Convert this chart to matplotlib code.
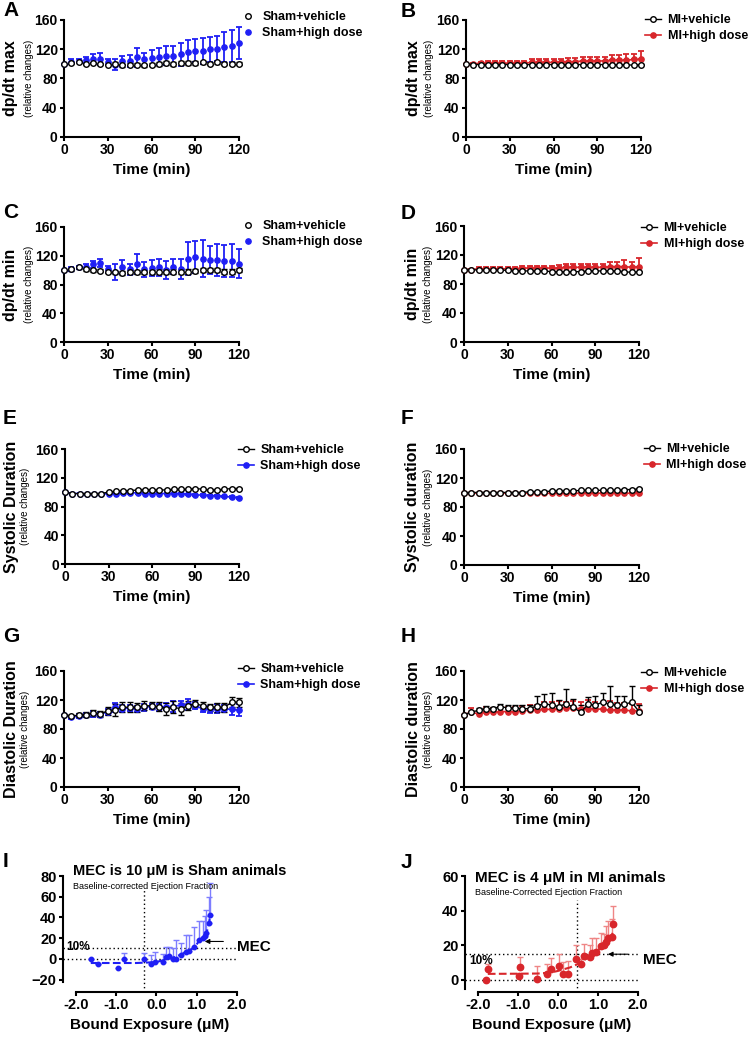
import numpy as np
import matplotlib
matplotlib.use("Agg")
import matplotlib.pyplot as plt

plt.rcParams['font.family'] = ['Liberation Sans', 'DejaVu Sans']
plt.rcParams['font.weight'] = 'bold'
plt.rcParams['axes.linewidth'] = 1.5

BLUE = '#1f1ff5'
RED = '#d8262b'
LBLUE = '#7d7dff'
LRED = '#ef8585'

W, H = 752, 1037

time = list(range(0, 125, 5))

# A - dp/dt max, sham
a_veh = [100, 101, 102, 100, 101, 100, 99, 100, 98, 99, 99, 98, 99, 100, 101, 100, 101, 101, 101, 102, 100, 102, 100, 100, 100]
a_veh_err = [0, 1, 1, 1, 1, 1, 1, 2, 2, 2, 2, 2, 2, 3, 3, 3, 3, 3, 3, 2, 2, 2, 2, 2, 2]
a_hd = [100, 103, 104, 105, 107, 107, 102, 99, 104, 104, 109, 106, 108, 110, 111, 111, 113, 116, 118, 118, 120, 121, 123, 125, 128]
a_hd_err = [0, 3, 2, 4, 6, 8, 4, 7, 7, 8, 13, 9, 11, 12, 13, 13, 16, 16, 16, 18, 17, 17, 21, 22, 22]

# B - dp/dt max, MI
b_veh = [100, 99, 99, 99, 99, 99, 99, 98, 99, 99, 99, 99, 99, 99, 99, 99, 99, 99, 99, 99, 99, 99, 99, 98, 99]
b_veh_err = [0, 1, 1, 1, 1, 1, 1, 1, 1, 1, 1, 1, 1, 1, 1, 1, 1, 1, 1, 1, 1, 1, 1, 1, 1]
b_hd = [100, 100, 101, 101, 101, 101, 101, 101, 101, 102, 102, 102, 102, 103, 103, 103, 104, 104, 104, 104, 105, 105, 105, 106, 106]
b_hd_err = [0, 1, 2, 3, 3, 3, 3, 3, 3, 4, 4, 4, 4, 4, 5, 5, 5, 5, 6, 6, 7, 7, 8, 8, 11]

# C - dp/dt min, sham
c_veh = [100, 101, 104, 101, 100, 99, 98, 97, 96, 97, 97, 97, 97, 98, 98, 98, 98, 98, 99, 100, 100, 100, 98, 98, 100]
c_veh_err = [0, 2, 2, 2, 2, 2, 2, 2, 3, 3, 3, 3, 3, 3, 3, 3, 3, 3, 3, 3, 3, 3, 3, 3, 3]
c_hd = [100, 102, 104, 105, 108, 110, 101, 97, 104, 101, 109, 101, 103, 104, 100, 105, 102, 116, 118, 116, 114, 114, 113, 113, 109]
c_hd_err = [0, 3, 2, 4, 5, 6, 5, 11, 10, 8, 14, 10, 11, 12, 13, 11, 14, 23, 22, 26, 20, 22, 22, 23, 20]

# D - dp/dt min, MI
d_veh = [100, 100, 99, 99, 99, 99, 99, 98, 98, 98, 98, 98, 97, 97, 97, 97, 97, 98, 98, 98, 98, 98, 97, 96, 97]
d_veh_err = [0, 1, 1, 1, 1, 1, 1, 1, 1, 1, 1, 1, 1, 1, 1, 1, 1, 1, 1, 1, 1, 1, 1, 1, 1]
d_hd = [100, 100, 101, 101, 101, 101, 101, 101, 102, 102, 102, 102, 102, 102, 103, 103, 103, 103, 103, 103, 104, 104, 104, 103, 104]
d_hd_err = [0, 1, 2, 2, 2, 2, 2, 3, 3, 3, 3, 3, 3, 4, 4, 4, 4, 5, 5, 5, 6, 6, 9, 8, 12]

# E - systolic duration, sham
e_veh = [100, 98, 98, 98, 98, 98, 100, 101, 102, 102, 103, 103, 103, 103, 103, 104, 104, 104, 105, 104, 103, 103, 104, 105, 105]
e_veh_err = [0, 1, 1, 1, 1, 1, 1, 1, 1, 1, 1, 1, 1, 1, 1, 1, 1, 1, 1, 1, 1, 1, 1, 1, 1]
e_hd = [100, 98, 98, 97, 97, 97, 98, 98, 99, 99, 99, 98, 98, 98, 98, 98, 98, 97, 96, 96, 95, 95, 94, 93, 92]
e_hd_err = [0, 1, 1, 1, 1, 1, 1, 1, 1, 1, 1, 1, 1, 1, 1, 1, 1, 1, 1, 1, 1, 1, 1, 1, 1]

# F - systolic duration, MI
f_veh = [100, 100, 100, 100, 100, 100, 100, 100, 100, 101, 101, 101, 102, 102, 102, 102, 103, 103, 103, 103, 103, 103, 104, 104, 105]
f_veh_err = [0, 1, 1, 1, 1, 1, 1, 1, 1, 1, 1, 1, 1, 1, 1, 1, 1, 1, 1, 1, 1, 1, 1, 1, 1]
f_hd = [100, 99, 99, 99, 99, 99, 99, 99, 99, 99, 99, 99, 99, 99, 99, 99, 99, 99, 99, 99, 99, 99, 99, 99, 99]
f_hd_err = [0, 1, 1, 1, 1, 1, 1, 1, 1, 1, 1, 1, 1, 1, 1, 1, 1, 1, 1, 2, 2, 2, 2, 2, 2]

# G - diastolic duration, sham
g_veh = [100, 98, 99, 100, 102, 101, 105, 106, 110, 110, 110, 112, 112, 111, 108, 110, 108, 112, 115, 112, 110, 110, 110, 117, 117]
g_veh_err = [0, 2, 3, 4, 4, 4, 6, 8, 7, 7, 6, 6, 5, 6, 8, 8, 8, 6, 5, 5, 5, 6, 6, 7, 6]
g_hd = [100, 96, 98, 99, 101, 100, 104, 110, 108, 109, 108, 110, 111, 110, 111, 111, 113, 114, 112, 108, 107, 108, 108, 107, 106]
g_hd_err = [0, 2, 3, 3, 4, 4, 4, 6, 5, 4, 4, 5, 4, 5, 5, 7, 6, 8, 5, 4, 5, 6, 5, 7, 8]

# H - diastolic duration, MI
h_veh = [100, 103, 106, 108, 108, 111, 109, 109, 108, 108, 112, 115, 113, 111, 115, 110, 103, 114, 113, 117, 114, 113, 114, 117, 104]
h_veh_err = [0, 2, 3, 4, 3, 4, 4, 4, 5, 5, 14, 13, 16, 9, 20, 12, 10, 10, 13, 13, 25, 12, 11, 22, 9]
h_hd = [100, 103, 101, 103, 103, 104, 104, 104, 105, 106, 106, 107, 107, 108, 109, 109, 108, 108, 108, 107, 106, 106, 106, 105, 105]
h_hd_err = [0, 6, 4, 8, 6, 6, 6, 6, 7, 7, 7, 10, 10, 11, 8, 10, 9, 12, 9, 10, 12, 10, 10, 9, 10]

# I - sham exposure response
i_x = [-1.63, -1.44, -0.95, -0.80, -0.32, -0.14, -0.03, 0.17, 0.23, 0.32, 0.42, 0.48, 0.61, 0.74, 0.81, 0.94, 1.05, 1.15, 1.20, 1.24, 1.31, 1.33]
i_y = [0, -5, -9, 0, 0, -5, -3, -3, 2, 3, 0, 0, 4, 7, 8, 11, 18, 20, 22, 25, 35, 42]
i_err = [0, 0, 0, 5.5, 5.5, 9, 10, 8, 9, 8, 10, 18, 11.5, 16, 15, 20, 19, 17, 19, 22, 25, 31]
i_fit_x = [-1.63, -1.0, -0.5, -0.2, 0.0, 0.2, 0.4, 0.6, 0.8, 0.95, 1.05, 1.15, 1.25, 1.31, 1.33]
i_fit_y = [-4, -4, -4, -3.5, -3, -1, 1, 4, 8, 11, 17, 21, 26, 35, 42]

# J - MI exposure response
j_x = [-1.79, -1.74, -0.96, -0.95, -0.51, -0.28, -0.18, 0.02, 0.13, 0.26, 0.46, 0.57, 0.66, 0.79, 0.86, 0.96, 1.07, 1.15, 1.21, 1.25, 1.34, 1.37]
j_y = [0, 6.2, 2, 7, 0.6, 3, 6.4, 8, 3.5, 3.5, 11.8, 9, 13.4, 13, 15.5, 16, 19.4, 20.3, 22, 24, 24.4, 32]
j_err = [0, 3, 0, 6, 7, 6, 6, 7, 6.5, 7.5, 8, 3, 7, 7, 8.5, 8, 7.3, 6, 9, 10, 10.5, 10.6]
j_fit_x = [-1.75, -1.0, -0.5, -0.2, 0.0, 0.3, 0.5, 0.7, 0.9, 1.1, 1.3, 1.37]
j_fit_y = [3.3, 3.4, 3.5, 4, 5, 7, 9, 12, 15, 19, 24, 27]

fig = plt.figure(figsize=(W / 100, H / 100), dpi=100)


def px_axes(left, top, right, bottom):
    return fig.add_axes([left / W, 1 - bottom / H, (right - left) / W, (bottom - top) / H])


def style_axes(ax):
    for s in ['top', 'right']:
        ax.spines[s].set_visible(False)
    ax.tick_params(direction='out', length=3, width=1.5, labelsize=10, pad=1.5)
    for lab in ax.get_xticklabels() + ax.get_yticklabels():
        lab.set_fontweight('bold')


def time_panel(box, veh, veh_err, hd, hd_err, color, names, ylab, lab_x, sub_x,
               connect, up_only, leg_xy, letter, letter_xy):
    ax = px_axes(*box)
    ls = '-' if connect else 'none'
    zeros = [0] * len(veh)
    ve = [zeros, veh_err] if up_only else veh_err
    he = [zeros, hd_err] if up_only else hd_err
    ax.errorbar(time, hd, yerr=he, fmt='none', ecolor=color, elinewidth=1.3,
                capsize=2, capthick=1.3, clip_on=False, zorder=2)
    ax.errorbar(time, veh, yerr=ve, fmt='none', ecolor='black', elinewidth=1.0,
                capsize=2, capthick=1.0, clip_on=False, zorder=3)
    h1, = ax.plot(time, veh, linestyle=ls, color='black', lw=1, marker='o', ms=4,
                  mfc='white', mec='black', mew=1, clip_on=False, zorder=4)
    h2, = ax.plot(time, hd, linestyle=ls, color=color, lw=1.2, marker='o', ms=3.8,
                  mfc=color, mec=color, clip_on=False, zorder=3.5)
    ax.set_xlim(0, 120)
    ax.set_ylim(0, 160)
    ax.set_xticks([0, 30, 60, 90, 120])
    ax.set_yticks([0, 40, 80, 120, 160])
    style_axes(ax)
    ax.set_xlabel('Time (min)', fontsize=11, fontweight='bold', labelpad=4)
    yc = 1 - (box[1] + box[3]) / 2 / H
    fig.text(lab_x / W, yc, ylab, rotation=90, ha='center', va='center',
             fontsize=11.5, fontweight='bold')
    fig.text(sub_x / W, yc, '(relative changes)', rotation=90, ha='center', va='center',
             fontsize=7, fontweight='normal')
    ax.legend([h1, h2], names, loc='upper left',
              bbox_to_anchor=(leg_xy[0] / W, 1 - leg_xy[1] / H), bbox_transform=fig.transFigure,
              frameon=False, handlelength=1.3, handletextpad=0.5, borderpad=0,
              borderaxespad=0, labelspacing=0.35, prop={'size': 9, 'weight': 'bold'})
    fig.text(letter_xy[0] / W, 1 - letter_xy[1] / H, letter, ha='left', va='top',
             fontsize=15, fontweight='bold')
    return ax


sham = ['Sham+vehicle', 'Sham+high dose']
mi = ['MI+vehicle', 'MI+high dose']

time_panel((64, 20, 239, 137), a_veh, a_veh_err, a_hd, a_hd_err, BLUE, sham, 'dp/dt max', 11, 29,
           False, False, (240, 11), 'A', (3, 1))
time_panel((466, 20, 641, 137), b_veh, b_veh_err, b_hd, b_hd_err, RED, mi, 'dp/dt max', 414, 429,
           True, True, (645, 14), 'B', (401, 2))
time_panel((64, 227, 239, 342), c_veh, c_veh_err, c_hd, c_hd_err, BLUE, sham, 'dp/dt min', 11, 29,
           False, False, (240, 220), 'C', (3, 203))
time_panel((464, 226, 639, 342), d_veh, d_veh_err, d_hd, d_hd_err, RED, mi, 'dp/dt min', 413, 428,
           True, True, (641, 222), 'D', (401, 204))
time_panel((65, 449, 239, 564), e_veh, e_veh_err, e_hd, e_hd_err, BLUE, sham, 'Systolic Duration', 12, 25,
           True, False, (238, 444), 'E', (3, 409))
time_panel((464, 449, 639, 565), f_veh, f_veh_err, f_hd, f_hd_err, RED, mi, 'Systolic duration', 413, 428,
           True, True, (644, 443), 'F', (401, 409))
time_panel((64, 671, 239, 787), g_veh, g_veh_err, g_hd, g_hd_err, BLUE, sham, 'Diastolic Duration', 12, 25,
           True, False, (238, 663), 'G', (3, 627))
time_panel((464, 671, 639, 787), h_veh, h_veh_err, h_hd, h_hd_err, RED, mi, 'Diastolic duration', 413, 428,
           True, True, (641, 667), 'H', (401, 627))


def exposure_panel(box, xs, ys, errs, fx, fy, color, ecolor, ms, ylim, spine_low, yticks,
                   vline_x, vline_top, mec_y, title, subtitle, title_y, sub_y, title_size, pct_xy,
                   arrow, mec_txt, letter, letter_xy):
    ax = px_axes(*box)
    x0 = -2.32
    ax.set_xlim(x0, 2.0)
    ax.set_ylim(*ylim)
    ax.hlines([0, mec_y], x0, 2.0, colors='black', linestyles=(0, (1, 2)), lw=1)
    ax.vlines(vline_x, ylim[0], vline_top, colors='black', linestyles=(0, (1, 2)), lw=1)
    ax.errorbar(xs, ys, yerr=[[0] * len(errs), errs], fmt='none', ecolor=ecolor,
                elinewidth=1, capsize=2, capthick=1, zorder=2)
    ax.plot(fx, fy, linestyle='--', color=color, lw=1.5, zorder=3)
    ax.plot(xs, ys, linestyle='none', marker='o', ms=ms, color=color, zorder=4)
    ax.spines['left'].set_bounds(spine_low, ylim[1])
    ax.spines['bottom'].set_bounds(-2.0, 2.0)
    ax.set_xticks([-2, -1, 0, 1, 2])
    ax.set_xticklabels(['-2.0', '-1.0', '0.0', '1.0', '2.0'])
    ax.set_yticks(yticks)
    style_axes(ax)
    ax.tick_params(labelsize=10.5)
    ax.set_xlabel('Bound Exposure (μM)', fontsize=11, fontweight='bold', labelpad=4)
    ax.text(-2.06, title_y, title, fontsize=title_size, fontweight='bold', ha='left', va='center')
    ax.text(-2.06, sub_y, subtitle, fontsize=6.5, fontweight='normal', ha='left', va='center')
    ax.text(pct_xy[0], pct_xy[1], '10%', fontsize=8.5, fontweight='bold', ha='left', va='center')
    ax.annotate('', xy=(arrow[1], arrow[2]), xytext=(arrow[0], arrow[2]),
                arrowprops=dict(arrowstyle='-|>', color='black', lw=0.8, mutation_scale=7))
    ax.text(mec_txt[0], mec_txt[1], 'MEC', fontsize=11, fontweight='bold', ha='left', va='center',
            clip_on=False)
    fig.text(letter_xy[0] / W, 1 - letter_xy[1] / H, letter, ha='left', va='top',
             fontsize=15, fontweight='bold')
    return ax


exposure_panel((63, 876, 237, 992), i_x, i_y, i_err, i_fit_x, i_fit_y, BLUE, LBLUE, 3.2,
               (-32, 80), -22, [-20, 0, 20, 40, 60, 80], -0.32, 66, 10,
               'MEC is 10 μM is Sham animals', 'Baseline-corrected Ejection Fraction', 84.5, 70.3, 10.5,
               (-2.23, 11), (1.73, 1.13, 16.8), (2.0, 11.6), 'I', (3, 852))
exposure_panel((465, 876, 638, 992), j_x, j_y, j_err, j_fit_x, j_fit_y, RED, LRED, 4.6,
               (-7.2, 60), -5.2, [0, 20, 40, 60], 0.47, 46, 15,
               'MEC is 4 μM in MI animals', 'Baseline-Corrected Ejection Fraction', 59, 50.7, 11,
               (-2.21, 10.6), (1.82, 1.18, 14.7), (2.13, 11.2), 'J', (401, 853))

fig.savefig('out.png', dpi=100)
